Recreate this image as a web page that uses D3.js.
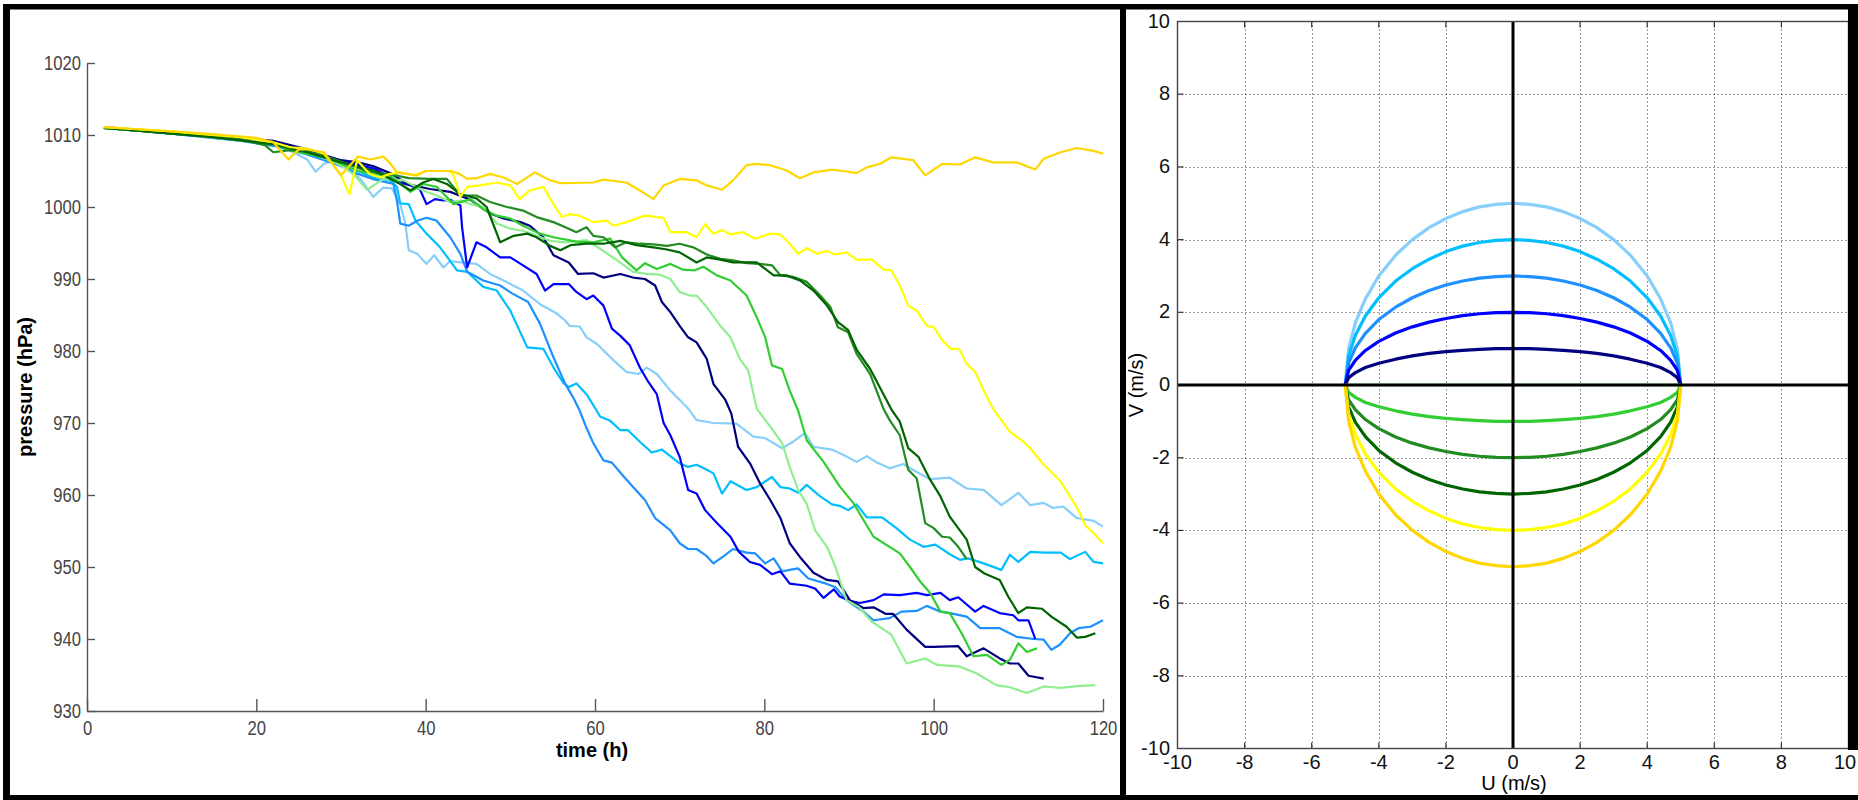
<!DOCTYPE html>
<html>
<head>
<meta charset="utf-8">
<script src="https://cdnjs.cloudflare.com/ajax/libs/d3/7.8.5/d3.min.js"></script>
<style>
    body { margin: 0; background: #fff; }
    svg { display: block; }
    .sans { font-family: "Liberation Sans", Arial, sans-serif; }
    .bold { font-family: "Liberation Sans", Arial, sans-serif; font-weight: bold; }
</style>
</head>
<body>
<svg id="chart"></svg>
<script>
const width = 1858, height = 800;

// ---- left panel: pressure (hPa) vs time (h), [hour, hPa] ----
const timeTicks = [0, 20, 40, 60, 80, 100, 120];
const pressureTicks = [930, 940, 950, 960, 970, 980, 990, 1000, 1010, 1020];

const pLightSkyBlue = [[2,1011.0],[6,1010.6],[10,1010.2],[14,1009.7],[18,1009.2],[20,1009.0],[22,1008.6],[24,1007.8],[26,1006.6],[27,1004.9],[28,1006.0],[29.5,1006.6],[31,1005.2],[32.3,1003.9],[33.8,1001.4],[35,1002.7],[36,1002.6],[37,1000.4],[37.6,997.7],[38,994.0],[39,993.5],[40.1,992.1],[41,993.3],[42.1,991.6],[42.9,992.5],[44.1,992.3],[46,992.1],[47.6,990.7],[49.2,989.8],[51.5,988.4],[53.5,986.5],[55.5,985.2],[56.5,984.2],[57,983.5],[58.2,983.4],[59,981.9],[60.2,981.0],[62.2,978.7],[63.7,977.1],[65.1,976.8],[66.1,977.7],[67.3,976.8],[68.9,974.5],[71,972.0],[72,970.4],[74,970.0],[76.7,969.9],[78.7,968.1],[80.1,967.9],[82.1,966.5],[83.4,967.4],[84.8,968.6],[85.8,966.7],[88,966.3],[89.3,965.6],[90.9,964.6],[92.1,965.4],[93.3,964.5],[94.8,963.7],[96.4,964.3],[98,963.2],[99.6,962.2],[101.9,962.4],[103.9,960.9],[105.9,960.7],[108,958.6],[110,960.3],[111.4,958.6],[113,958.9],[114.1,958.2],[115.3,958.4],[116.9,956.8],[118.9,956.4],[120,955.6]];
const pDeepSkyBlue = [[2,1011.0],[6,1010.6],[10,1010.2],[14,1009.8],[18,1009.3],[22,1008.6],[26,1007.5],[28,1006.8],[30,1006.0],[32,1005.0],[34,1004.0],[35.8,1003.7],[36.6,1002.8],[37,1000.5],[38,1000.4],[38.8,998.1],[40.1,996.3],[41.7,994.4],[43.7,991.2],[44.9,991.0],[46.8,988.9],[48.4,988.4],[50,985.6],[52,980.5],[53.9,980.3],[55.1,977.7],[56.3,975.5],[56.9,975.0],[57.8,975.5],[59,974.0],[60.2,971.7],[60.6,970.9],[61.8,970.3],[63,969.0],[63.9,969.0],[65.3,967.4],[66.7,965.9],[67.9,966.3],[70,964.4],[71,963.9],[72,964.2],[73.2,963.5],[74,963.0],[75,960.2],[76,961.9],[77.9,960.7],[79.1,961.1],[80.9,962.5],[81.9,961.1],[83,960.9],[84,960.3],[85,961.4],[86.6,959.8],[88,958.7],[88.9,958.5],[89.9,957.9],[90.9,958.7],[92.1,956.9],[93.9,956.9],[95.6,955.4],[97.2,953.8],[98.8,952.8],[100.2,953.1],[102,951.7],[103.1,951.0],[104.1,951.2],[105.9,950.5],[108,949.6],[109,951.7],[110,950.7],[111.4,952.1],[113,952.0],[115,952.0],[116.1,951.1],[117.9,952.1],[118.9,950.7],[120,950.5]];
const pDodgerBlue = [[2,1011.0],[6,1010.6],[10,1010.2],[14,1009.7],[18,1009.2],[22,1008.5],[26,1007.3],[28,1006.5],[30,1005.7],[32,1004.6],[34,1003.8],[36.2,1003.2],[36.6,1000.9],[37,997.7],[38,997.4],[39,998.1],[40.1,998.5],[41.3,998.1],[42.9,995.8],[44.1,993.5],[44.9,991.0],[46.8,989.8],[48.8,989.1],[50.2,988.0],[52.1,986.8],[53.5,983.8],[55.1,979.1],[56.5,975.4],[57.4,973.6],[58.2,971.7],[59,969.3],[59.8,967.2],[61,964.8],[62,964.5],[63,963.1],[64.5,961.1],[65.9,959.3],[67.1,956.8],[68.9,955.1],[70,953.3],[71,952.5],[72,952.5],[73.2,951.5],[74,950.5],[75.2,951.5],[76.3,952.5],[77.9,952.0],[78.9,951.9],[80.1,950.5],[81.1,951.2],[82.1,949.4],[83,949.6],[84,949.8],[85.2,948.4],[87,947.8],[88.4,947.2],[89.7,945.4],[91.7,943.8],[92.9,942.6],[94.8,942.9],[96.2,943.8],[98,943.9],[99.2,944.6],[100.8,943.8],[101.9,943.6],[103.9,943.1],[105.5,941.5],[107.8,941.5],[109.8,940.3],[111.8,940.0],[113,939.9],[113.9,938.5],[114.9,939.2],[116.1,940.8],[117.1,941.5],[118.5,941.7],[120,942.6]];
const pBlue = [[2,1011.0],[6,1010.6],[10,1010.3],[14,1009.9],[18,1009.4],[22,1008.9],[26,1007.8],[30,1006.4],[34,1005.3],[37,1003.4],[38.2,1003.0],[39.3,1002.5],[40.1,1000.4],[41.1,1001.1],[42.1,1000.9],[42.9,1001.0],[44.1,1000.2],[44.3,997.2],[44.9,991.6],[46,995.1],[47.2,994.4],[48.8,993.0],[50,993.0],[51.5,991.9],[53.1,990.7],[54.1,988.4],[55.1,989.3],[56.9,989.3],[57.8,988.2],[59,987.2],[59.8,987.7],[61,986.3],[62,983.1],[63,982.1],[64.1,980.8],[65.3,977.7],[66.3,975.7],[67.3,974.0],[68.1,970.0],[68.9,968.3],[70,965.3],[71,960.7],[72,960.2],[73,957.9],[74.4,956.1],[76,954.2],[77,952.1],[78.3,950.7],[79.5,950.3],[80.9,949.0],[81.9,949.4],[83,947.7],[85,947.4],[86,947.0],[87,945.7],[88.2,946.9],[88.9,945.9],[90.1,945.3],[91.3,945.0],[92.9,945.4],[94.1,946.2],[96,946.1],[98,946.4],[99.2,946.1],[100.8,946.4],[101.9,945.4],[102.9,945.8],[104.9,943.8],[105.9,944.6],[107.8,943.6],[109.4,943.3],[110,942.6],[111.2,942.6],[112,940.0]];
const pNavy = [[2,1011.1],[6,1010.7],[10,1010.4],[14,1010.0],[18,1009.6],[22,1009.2],[24,1008.6],[26,1008.0],[28,1007.2],[30,1006.5],[32,1006.2],[34,1005.6],[36,1004.6],[37.8,1003.2],[40.5,1002.5],[42.9,1002.1],[45.3,1001.0],[47.6,999.1],[49.2,998.4],[51.2,997.9],[52.3,997.4],[53.9,995.8],[55.1,993.3],[56.9,992.3],[58,990.7],[59.8,990.8],[61,990.2],[63,990.7],[64.5,990.2],[65.9,990.0],[67.1,989.1],[67.9,986.8],[68.9,985.4],[70,983.5],[71,981.9],[72,981.2],[73.2,978.9],[74,975.4],[75.4,973.2],[76.1,971.3],[76.9,966.7],[78.3,964.4],[79.5,961.6],[80.7,959.3],[81.9,956.8],[83,953.3],[84.2,951.4],[85.8,949.2],[87.4,948.2],[88.7,948.0],[90.1,945.4],[91.7,944.3],[92.9,944.4],[94.3,943.5],[95.2,943.5],[96.8,941.3],[99,938.9],[100,938.9],[102.9,939.0],[103.9,937.6],[105.9,938.7],[107.8,937.3],[109,936.6],[110,936.6],[111.2,934.9],[113,934.5]];
const pLightGreen = [[2,1011.0],[6,1010.6],[10,1010.3],[14,1009.8],[18,1009.3],[22,1008.8],[24,1008.3],[26,1007.6],[28,1006.8],[30,1005.8],[31.5,1004.5],[33.1,1002.4],[35,1003.9],[37.4,1003.7],[39.7,1002.3],[41.3,1001.6],[42.9,1000.7],[44.1,1000.9],[45.3,1000.4],[46.8,1000.0],[48.4,997.7],[50,997.0],[51.5,996.7],[53.1,996.0],[54.7,995.3],[56.5,995.1],[57.4,995.2],[59,995.4],[60.6,994.2],[62.6,992.6],[64.5,991.0],[66.1,990.7],[67.7,990.6],[68.9,990.0],[70,988.2],[71.2,987.7],[72,987.7],[73.2,986.1],[74.8,983.5],[76,981.9],[77.1,978.9],[78.1,977.3],[79.1,972.0],[80.7,969.5],[82.1,967.2],[83,963.9],[84,960.7],[85,958.8],[86,955.1],[87.4,952.8],[88.4,950.0],[89.7,945.4],[91.1,944.5],[92.7,942.4],[95,940.6],[96.8,936.6],[99,937.3],[100.4,936.4],[103,936.2],[105.1,935.2],[107.4,933.6],[109,933.3],[111,932.5],[113,933.4],[115,933.2],[117.3,933.5],[119.1,933.6]];
const pLimeGreen = [[2,1011.0],[6,1010.6],[10,1010.3],[14,1009.8],[18,1009.3],[22,1008.7],[24,1007.9],[26,1007.4],[28,1006.9],[30,1006.0],[32,1005.0],[34,1004.6],[36,1004.2],[38.2,1002.1],[39.7,1003.2],[41.3,1002.8],[43.3,1000.4],[45.3,1001.1],[46.8,999.7],[48.4,998.8],[50,998.4],[51.5,997.4],[53.5,996.3],[55.1,995.8],[57.8,995.2],[59.8,995.1],[61.8,995.6],[63.2,993.0],[64.9,991.2],[65.9,992.2],[67.3,991.4],[68.9,992.1],[70.4,991.3],[71.8,991.2],[72.8,991.7],[74.4,990.5],[76,989.8],[77.9,987.7],[79.1,984.7],[80.1,981.9],[80.9,978.0],[82.1,977.5],[83,974.5],[84,971.7],[85,967.6],[87,964.6],[88.9,961.2],[90.5,958.9],[92.9,954.2],[96,951.9],[97.2,950.0],[98.4,948.0],[99.6,946.4],[100.8,943.8],[101.9,943.6],[103.3,940.8],[104.7,937.6],[106.3,937.8],[108,936.4],[109,937.1],[110,939.4],[111,938.2],[112.2,938.7]];
const pForestGreen = [[2,1011.0],[6,1010.6],[10,1010.2],[14,1009.8],[18,1009.4],[21,1008.6],[22,1007.6],[24,1007.9],[26,1007.7],[28,1007.1],[30,1006.3],[33,1005.0],[36,1004.5],[38,1004.0],[40.5,1003.9],[42.5,1003.9],[44.1,1001.6],[46,1001.6],[47.6,1000.7],[49.6,1000.0],[51.5,999.5],[53.1,998.6],[55.1,997.9],[56.5,997.2],[57.8,996.5],[59,997.2],[59.8,996.0],[61,995.8],[62.4,994.4],[63.7,995.1],[65.3,994.9],[66.9,994.8],[68.5,994.6],[70,994.9],[71.6,994.4],[73.2,993.4],[74.8,992.8],[76.3,992.6],[77.9,992.2],[79.5,992.1],[80.9,991.9],[81.9,990.5],[83.4,990.3],[85,989.6],[86.6,987.7],[87.8,986.1],[88.7,983.3],[89.9,982.6],[90.9,979.6],[92.5,976.8],[94.1,971.9],[94.8,970.4],[96,968.3],[97,963.5],[98,962.3],[99,956.1],[100,955.4],[101,954.2],[101.9,954.1],[102.9,952.8],[103.9,951.1]];
const pDarkGreen = [[2,1011.0],[6,1010.6],[10,1010.2],[14,1009.8],[18,1009.3],[22,1008.7],[26,1007.6],[30,1006.2],[34,1005.0],[37,1003.2],[38.2,1002.3],[39.7,1003.4],[40.9,1003.9],[42.5,1003.2],[44.1,1001.8],[46,1001.2],[47.2,1000.0],[48.8,995.1],[50.4,996.0],[52,996.3],[53.1,995.8],[54.7,994.6],[55.9,994.0],[57.1,994.7],[59,994.9],[61,994.9],[63,995.3],[64.9,994.7],[66.9,994.4],[68.5,994.1],[70,993.7],[72,992.3],[73.2,993.0],[74.8,992.7],[76.3,992.3],[79.1,992.3],[81.1,990.5],[82.6,990.5],[84.2,989.8],[85.8,988.4],[87.4,986.3],[88.7,984.0],[89.9,982.9],[90.9,980.2],[92.5,977.5],[95,971.9],[96,970.2],[97,966.5],[98.2,965.3],[99.6,962.1],[100.8,959.8],[101.9,957.0],[102.9,955.4],[103.9,953.8],[104.9,950.0],[106,949.1],[107.8,948.2],[108.8,945.9],[110,943.6],[111,944.4],[112.8,944.2],[113.9,943.1],[115.7,941.7],[116.9,940.2],[117.9,940.3],[119.1,940.8]];
const pYellow = [[2,1011.1],[6,1010.8],[10,1010.5],[14,1010.1],[18,1009.7],[22,1009.0],[24,1008.3],[26,1008.1],[28,1007.4],[29.9,1004.6],[31,1001.8],[31.9,1006.5],[33.4,1004.6],[34.6,1004.1],[35.8,1004.6],[37,1004.8],[38.6,1004.4],[40.1,1005.0],[42.9,1005.0],[43.3,1004.4],[44.1,1001.4],[44.9,1002.8],[46.4,1003.0],[48.4,1003.4],[50,1003.0],[51.1,1001.1],[52.3,1002.3],[53.9,1002.8],[55.1,1000.4],[56.1,998.6],[57,999.0],[58.2,998.8],[59.8,997.9],[61.4,998.1],[62.2,997.4],[63.7,997.9],[65.9,998.8],[68.1,998.5],[68.9,996.5],[70.8,996.5],[72,995.8],[73,997.6],[74,996.3],[75,996.8],[76,996.2],[77.5,996.5],[78.9,995.6],[80.7,996.3],[81.9,996.2],[83,994.9],[84,993.5],[85,994.3],[86.2,993.5],[87.4,993.9],[88.4,993.4],[89.7,993.7],[90.9,992.7],[92.7,992.7],[94.1,991.3],[95,991.2],[96,989.1],[97,986.3],[98,985.6],[99.2,983.5],[100,983.3],[101,981.5],[102,980.3],[103,980.3],[103.9,978.2],[104.9,977.1],[106,974.3],[107,972.0],[109,968.8],[110.6,967.4],[111.4,966.5],[113,964.2],[115,961.9],[116.1,959.8],[117.1,957.9],[117.9,955.8],[118.9,954.7],[120,953.3]];
const pGold = [[2,1011.1],[6,1010.8],[10,1010.5],[14,1010.2],[18,1009.8],[20,1009.6],[22,1009.0],[23.8,1006.6],[25,1008.0],[26,1008.0],[28,1007.6],[30,1004.4],[32,1007.0],[33.5,1006.6],[35,1007.0],[35.8,1006.1],[36.6,1004.8],[37.8,1004.6],[39,1004.4],[40,1005.0],[43,1005.0],[44,1004.6],[44.9,1003.9],[46,1004.0],[47.6,1004.6],[49.2,1004.1],[50.8,1003.2],[52.9,1004.8],[54.7,1003.7],[56,1003.3],[59.8,1003.4],[61,1003.8],[63.7,1003.4],[65.3,1002.3],[66.9,1001.1],[68.1,1003.0],[70,1003.9],[72,1003.7],[73.2,1003.0],[75,1002.4],[76.3,1003.7],[77.9,1005.8],[79.1,1006.0],[80.7,1005.8],[82.6,1005.1],[84.2,1004.0],[85.8,1004.8],[88,1005.2],[89.3,1005.0],[90.9,1004.7],[92.1,1005.5],[93.7,1006.0],[95,1006.9],[97.6,1006.5],[99,1004.4],[101,1006.0],[103.1,1005.9],[104.9,1006.9],[107,1006.2],[109.8,1006.2],[112,1005.2],[113,1006.7],[115,1007.6],[116.9,1008.2],[118.9,1007.8],[120,1007.4]];

const pressureSeries = [pLightSkyBlue, pDeepSkyBlue, pDodgerBlue, pBlue, pNavy, pLightGreen, pLimeGreen, pForestGreen, pDarkGreen, pYellow, pGold];
const seriesColors = ["#87cefa", "#00bfff", "#1e90ff", "#0000ff", "#000080", "#90ee90", "#32cd32", "#228b22", "#006400", "#ffff00", "#ffd700"];

// ---- right panel: V (m/s) vs U (m/s) ----
const uvTicks = [-10, -8, -6, -4, -2, 0, 2, 4, 6, 8, 10];
const uSamples = [-5, -4.9, -4.7, -4.4, -4, -3.5, -3, -2.5, -2, -1.5, -1, -0.5, 0, 0.5, 1, 1.5, 2, 2.5, 3, 3.5, 4, 4.4, 4.7, 4.9, 5];
const vPlus5 = [0, 0.99, 1.71, 2.37, 3.0, 3.57, 4.0, 4.33, 4.58, 4.77, 4.9, 4.97, 5.0, 4.97, 4.9, 4.77, 4.58, 4.33, 4.0, 3.57, 3.0, 2.37, 1.71, 0.99, 0];
const vPlus4 = [0, 0.8, 1.36, 1.9, 2.4, 2.86, 3.2, 3.46, 3.67, 3.82, 3.92, 3.98, 4.0, 3.98, 3.92, 3.82, 3.67, 3.46, 3.2, 2.86, 2.4, 1.9, 1.36, 0.8, 0];
const vPlus3 = [0, 0.6, 1.02, 1.42, 1.8, 2.14, 2.4, 2.6, 2.75, 2.86, 2.94, 2.98, 3.0, 2.98, 2.94, 2.86, 2.75, 2.6, 2.4, 2.14, 1.8, 1.42, 1.02, 0.6, 0];
const vPlus2 = [0, 0.4, 0.68, 0.95, 1.2, 1.43, 1.6, 1.73, 1.83, 1.91, 1.96, 1.99, 2.0, 1.99, 1.96, 1.91, 1.83, 1.73, 1.6, 1.43, 1.2, 0.95, 0.68, 0.4, 0];
const vPlus1 = [0, 0.2, 0.34, 0.48, 0.6, 0.71, 0.8, 0.87, 0.92, 0.95, 0.98, 1.0, 1.0, 1.0, 0.98, 0.95, 0.92, 0.87, 0.8, 0.71, 0.6, 0.48, 0.34, 0.2, 0];
const vZero = [0, 0, 0, 0, 0, 0, 0, 0, 0, 0, 0, 0, 0, 0, 0, 0, 0, 0, 0, 0, 0, 0, 0, 0, 0];
const vMinus1 = [0, -0.2, -0.34, -0.48, -0.6, -0.71, -0.8, -0.87, -0.92, -0.95, -0.98, -1.0, -1.0, -1.0, -0.98, -0.95, -0.92, -0.87, -0.8, -0.71, -0.6, -0.48, -0.34, -0.2, 0];
const vMinus2 = [0, -0.4, -0.68, -0.95, -1.2, -1.43, -1.6, -1.73, -1.83, -1.91, -1.96, -1.99, -2.0, -1.99, -1.96, -1.91, -1.83, -1.73, -1.6, -1.43, -1.2, -0.95, -0.68, -0.4, 0];
const vMinus3 = [0, -0.6, -1.02, -1.42, -1.8, -2.14, -2.4, -2.6, -2.75, -2.86, -2.94, -2.98, -3.0, -2.98, -2.94, -2.86, -2.75, -2.6, -2.4, -2.14, -1.8, -1.42, -1.02, -0.6, 0];
const vMinus4 = [0, -0.8, -1.36, -1.9, -2.4, -2.86, -3.2, -3.46, -3.67, -3.82, -3.92, -3.98, -4.0, -3.98, -3.92, -3.82, -3.67, -3.46, -3.2, -2.86, -2.4, -1.9, -1.36, -0.8, 0];
const vMinus5 = [0, -0.99, -1.71, -2.37, -3.0, -3.57, -4.0, -4.33, -4.58, -4.77, -4.9, -4.97, -5.0, -4.97, -4.9, -4.77, -4.58, -4.33, -4.0, -3.57, -3.0, -2.37, -1.71, -0.99, 0];
const hodoSeries = [vPlus5, vPlus4, vPlus3, vPlus2, vPlus1, vZero, vMinus1, vMinus2, vMinus3, vMinus4, vMinus5];

const svg = d3.select("#chart")
    .attr("width", width)
    .attr("height", height)
    .style("background", "#fff");

// squeeze text horizontally (the original tick labels use a narrow face)
function condense(sel, ratio) {
    sel.each(function () {
        const w = this.getComputedTextLength();
        d3.select(this).attr("textLength", w * ratio).attr("lengthAdjust", "spacingAndGlyphs");
    });
}

function drawFrame() {
    const frame = svg.append("g").attr("fill", "#000");
    frame.append("rect").attr("x", 3).attr("y", 4).attr("width", width - 3).attr("height", 5.5);
    frame.append("rect").attr("x", 3).attr("y", 4).attr("width", 7).attr("height", height - 4);
    frame.append("rect").attr("x", 3).attr("y", 795).attr("width", width - 3).attr("height", 5);
    frame.append("rect").attr("x", 1120).attr("y", 4).attr("width", 6).attr("height", height - 4);
    frame.append("rect").attr("x", 1848).attr("y", 4).attr("width", 10).attr("height", 746);
}

function drawLeftPanel() {
    const xScale = d3.scaleLinear().domain([0, 120]).range([87, 1103]);
    const yScale = d3.scaleLinear().domain([930, 1020]).range([711, 63]);

    const xAxis = d3.axisBottom(xScale).tickValues(timeTicks)
        .tickSizeInner(-12).tickSizeOuter(0).tickPadding(10);
    const yAxis = d3.axisLeft(yScale).tickValues(pressureTicks)
        .tickFormat(d3.format("d"))
        .tickSizeInner(-8).tickSizeOuter(0).tickPadding(6);

    const gx = svg.append("g")
        .attr("transform", "translate(0," + 711 + ")").call(xAxis);
    const gy = svg.append("g")
        .attr("transform", "translate(" + 87 + ",0)").call(yAxis);
    [gx, gy].forEach(g => {
        g.attr("font-family", null).attr("font-size", null).attr("class", "sans");
        g.selectAll("path, line").attr("stroke", "#555").attr("stroke-width", 1.4);
        g.selectAll("text").attr("fill", "#444").attr("font-size", 20);
        condense(g.selectAll("text"), 0.83);
    });

    const line = d3.line()
        .x(d => xScale(d[0]))
        .y(d => yScale(d[1]));

    svg.append("g")
        .selectAll("path")
        .data(pressureSeries)
        .enter().append("path")
        .attr("d", line)
        .attr("fill", "none")
        .attr("stroke", (d, i) => seriesColors[i])
        .attr("stroke-width", 2.2)
        .attr("stroke-linejoin", "round");

    svg.append("text")
        .attr("class", "bold")
        .attr("x", 592).attr("y", 757)
        .attr("text-anchor", "middle")
        .attr("font-size", 20)
        .text("time (h)");
    svg.append("text")
        .attr("class", "bold")
        .attr("transform", "translate(32,387) rotate(-90)")
        .attr("text-anchor", "middle")
        .attr("font-size", 20)
        .text("pressure (hPa)");
}

function drawRightPanel() {
    const x0 = 1177.5, x1 = 1848.5, y0 = 748.5, y1 = 21.5;
    const xScale = d3.scaleLinear().domain([-10, 10]).range([x0, x1]);
    const yScale = d3.scaleLinear().domain([-10, 10]).range([y0, y1]);
    const inner = uvTicks.filter(v => v !== -10 && v !== 10 && v !== 0);

    const grid = svg.append("g")
        .attr("stroke", "#333").attr("stroke-width", 1)
        .attr("stroke-dasharray", "1,3");
    grid.selectAll(".gx").data(inner).enter().append("line")
        .attr("x1", d => Math.round(xScale(d)) + 0.5).attr("x2", d => Math.round(xScale(d)) + 0.5)
        .attr("y1", y1).attr("y2", y0);
    grid.selectAll(".gy").data(inner).enter().append("line")
        .attr("x1", x0).attr("x2", x1)
        .attr("y1", d => Math.round(yScale(d)) + 0.5).attr("y2", d => Math.round(yScale(d)) + 0.5);

    const ticks = svg.append("g").attr("stroke", "#333").attr("stroke-width", 1.2);
    inner.forEach(v => {
        ticks.append("line").attr("x1", xScale(v)).attr("x2", xScale(v)).attr("y1", y0).attr("y2", y0 - 6);
        ticks.append("line").attr("x1", xScale(v)).attr("x2", xScale(v)).attr("y1", y1).attr("y2", y1 + 6);
        ticks.append("line").attr("y1", yScale(v)).attr("y2", yScale(v)).attr("x1", x0).attr("x2", x0 + 6);
    });

    const curve = d3.line()
        .x((d, i) => xScale(uSamples[i]))
        .y(d => yScale(d));

    svg.append("g")
        .selectAll("path")
        .data(hodoSeries)
        .enter().append("path")
        .attr("d", curve)
        .attr("fill", "none")
        .attr("stroke", (d, i) => seriesColors[i])
        .attr("stroke-width", 3.2)
        .attr("stroke-linejoin", "round");

    svg.append("line")
        .attr("x1", x0).attr("x2", x1)
        .attr("y1", yScale(0)).attr("y2", yScale(0))
        .attr("stroke", "#000").attr("stroke-width", 3);
    svg.append("line")
        .attr("x1", xScale(0)).attr("x2", xScale(0))
        .attr("y1", y1).attr("y2", y0)
        .attr("stroke", "#000").attr("stroke-width", 3);

    svg.append("rect")
        .attr("x", x0).attr("y", y1)
        .attr("width", x1 - x0).attr("height", y0 - y1)
        .attr("fill", "none").attr("stroke", "#444").attr("stroke-width", 1.4);

    drawFrame();

    const labels = svg.append("g").attr("class", "sans").attr("font-size", 20).attr("fill", "#111");
    labels.selectAll(".xl").data(uvTicks).enter().append("text")
        .attr("x", d => Math.min(xScale(d), 1845)).attr("y", 769)
        .attr("text-anchor", "middle")
        .text(d => d);
    labels.selectAll(".yl").data(uvTicks).enter().append("text")
        .attr("x", 1170).attr("y", d => yScale(d))
        .attr("dy", "0.3em")
        .attr("text-anchor", "end")
        .text(d => d);

    svg.append("text")
        .attr("class", "sans")
        .attr("x", 1514).attr("y", 790)
        .attr("text-anchor", "middle")
        .attr("font-size", 20)
        .text("U (m/s)");
    svg.append("text")
        .attr("class", "sans")
        .attr("transform", "translate(1143,385) rotate(-90)")
        .attr("text-anchor", "middle")
        .attr("font-size", 20)
        .text("V (m/s)");
}

drawLeftPanel();
drawRightPanel();
</script>
</body>
</html>
